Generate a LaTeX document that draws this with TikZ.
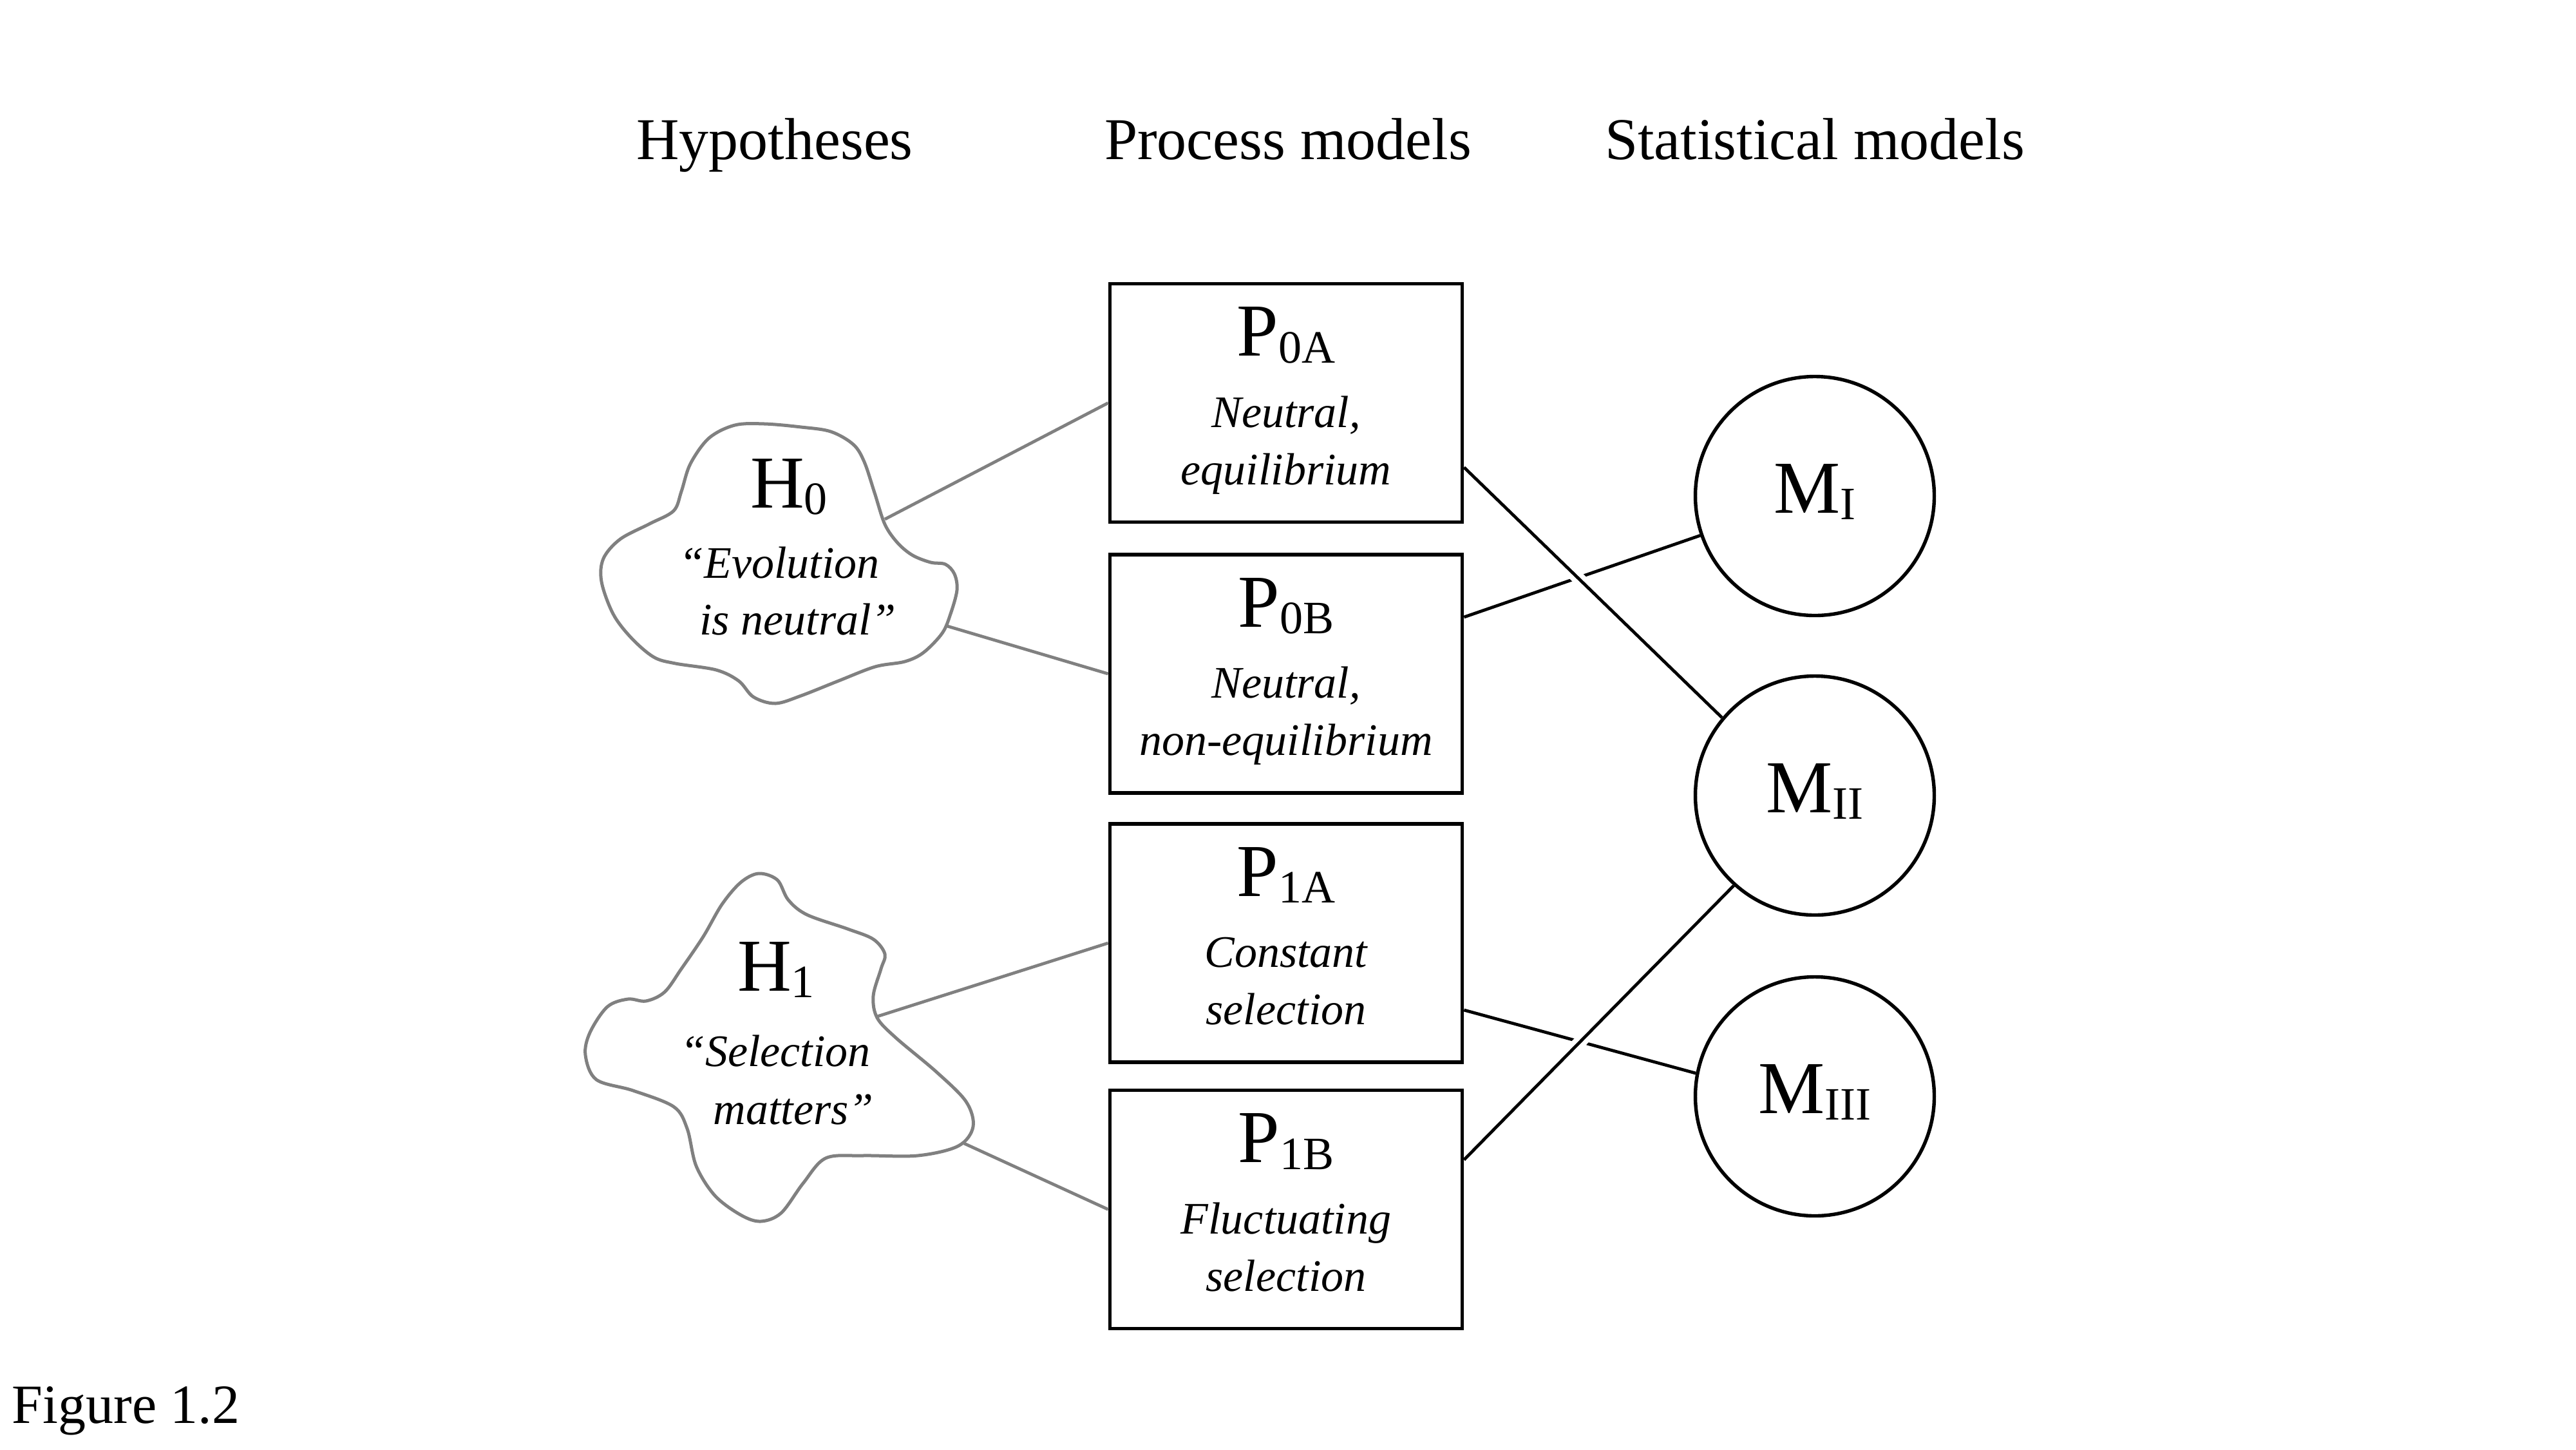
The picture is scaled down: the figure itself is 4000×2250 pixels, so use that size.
\documentclass[tikz,border=0pt]{standalone}
\usepackage{fontspec}
\setmainfont{Liberation Serif}
\definecolor{linegray}{RGB}{128,128,128}
\newcommand{\sbs}[1]{\raisebox{-2.7pt}{\fontsize{18}{18}\selectfont #1}}
\begin{document}
\begin{tikzpicture}[x=0.25pt,y=-0.25pt,
  box/.style={draw=black,line width=1.4pt,rectangle,minimum width=136.75pt,minimum height=92.5pt,inner sep=0pt},
  model/.style={draw=black,line width=1.35pt,circle,minimum size=92.75pt,inner sep=0pt},
  hdr/.style={font=\fontsize{23}{26}\selectfont,anchor=base,inner sep=0pt},
  big/.style={font=\fontsize{29}{30}\selectfont,anchor=base,inner sep=0pt},
  desc/.style={font=\fontsize{17.5}{20}\selectfont\itshape,anchor=base,inner sep=0pt},
  link/.style={draw=black,line width=1.2pt},
  hlink/.style={draw=linegray,line width=1.2pt},
  cloudshape/.style={draw=linegray,line width=1.25pt,fill=white},
  crossgap/.style={draw=white,line width=5pt,shorten <=30pt,shorten >=30pt}]

\fill[white] (0,0) rectangle (4000,2250);
\useasboundingbox (0,0) rectangle (4000,2250);

% headers
\node[hdr] (hh) at (1203,247) {Hypotheses};
\node[hdr] (hp) at (2000,247) {Process models};
\node[hdr] (hs) at (2818,247) {Statistical models};

% process boxes
\node[box] (p0a) at (1997,625.5) {};
\node[box] (p0b) at (1997,1046) {};
\node[box] (p1a) at (1997,1464) {};
\node[box] (p1b) at (1997,1877.5) {};

% statistical models
\node[model] (mi) at (2818,770) {};
\node[model] (mii) at (2818,1235) {};
\node[model] (miii) at (2818,1702) {};

% hypothesis connectors
\coordinate (h0a) at (1374,806);
\coordinate (h0b) at (1471,972);
\coordinate (h1a) at (1362,1578);
\coordinate (h1b) at (1497,1775);
\draw[hlink] (h0a) -- (p0a.west);
\draw[hlink] (h0b) -- (p0b.west);
\draw[hlink] (h1a) -- (p1a.west);
\draw[hlink] (h1b) -- (p1b.west);

% clouds
\draw[cloudshape] plot[smooth cycle,tension=0.55] coordinates {
 (1141,660) (1187,658) (1244,663) (1290,670) (1325,690) (1342,717) (1358,765)
 (1374,814) (1394,843) (1417,862) (1445,873) (1468,876) (1482,891) (1486,916)
 (1476,953) (1463,983) (1434,1013) (1405,1027) (1359,1035) (1302,1057)
 (1244,1080) (1204,1092) (1170,1082) (1147,1057) (1112,1040) (1049,1030)
 (1015,1020) (980,990) (952,953) (934,903) (937,867) (963,837) (1009,813)
 (1046,793) (1058,763) (1072,720) (1101,680)};
\draw[cloudshape] plot[smooth cycle,tension=0.55] coordinates {
 (1178,1356) (1150,1370) (1121,1404) (1092,1454) (1058,1504) (1032,1540)
 (1003,1554) (975,1551) (943,1563) (916,1603) (909,1638) (926,1676)
 (983,1693) (1046,1718) (1067,1752) (1081,1810) (1110,1856) (1150,1886)
 (1181,1896) (1213,1883) (1247,1837) (1282,1798) (1339,1794) (1425,1794)
 (1488,1779) (1511,1749) (1500,1710) (1454,1664) (1391,1611) (1362,1580)
 (1356,1546) (1368,1504) (1374,1481) (1356,1458) (1316,1442) (1253,1420)
 (1224,1397) (1207,1366)};

% cloud texts
\node[big] (h0) at (1225,788) {H\sbs{0}};
\node[desc] (h0l1) at (1210,897) {“Evolution};
\node[desc] (h0l2) at (1239,985) {is neutral”};
\node[big] (h1) at (1205,1538) {H\sbs{1}};
\node[desc] (h1l1) at (1204,1655) {“Selection};
\node[desc] (h1l2) at (1232,1745) {matters”};

% box texts
\node[big] (t0a) at (1997,552.5) {P\sbs{0A}};
\node[desc] (d0a1) at (1997,663) {Neutral,};
\node[desc] (d0a2) at (1997,752) {equilibrium};
\node[big] (t0b) at (1997,973) {P\sbs{0B}};
\node[desc] (d0b1) at (1997,1083.5) {Neutral,};
\node[desc] (d0b2) at (1997,1172.5) {non-equilibrium};
\node[big] (t1a) at (1997,1391) {P\sbs{1A}};
\node[desc] (d1a1) at (1997,1501.5) {Constant};
\node[desc] (d1a2) at (1997,1590.5) {selection};
\node[big] (t1b) at (1997,1804.5) {P\sbs{1B}};
\node[desc] (d1b1) at (1997,1915) {Fluctuating};
\node[desc] (d1b2) at (1997,2004) {selection};

% model texts
\node[big] (tmi) at (2818,796) {M\sbs{I}};
\node[big] (tmii) at (2818,1261) {M\sbs{II}};
\node[big] (tmiii) at (2818,1728) {M\sbs{III}};

% process-to-statistical connectors
\draw[link] ([yshift=22pt]p0b.east) -- (mi.199);
\draw[crossgap] ([yshift=-25pt]p0a.east) -- (mii.140.6);
\draw[link] ([yshift=-25pt]p0a.east) -- (mii.140.6);
\draw[link] ([yshift=-26pt]p1a.east) -- (miii.169);
\draw[crossgap] ([yshift=19.25pt]p1b.east) -- (mii.228);
\draw[link] ([yshift=19.25pt]p1b.east) -- (mii.228);

% figure label
\node[font=\fontsize{21.5}{24}\selectfont,anchor=base west,inner sep=0pt] (fig) at (18,2209) {Figure 1.2};
\end{tikzpicture}
\end{document}
